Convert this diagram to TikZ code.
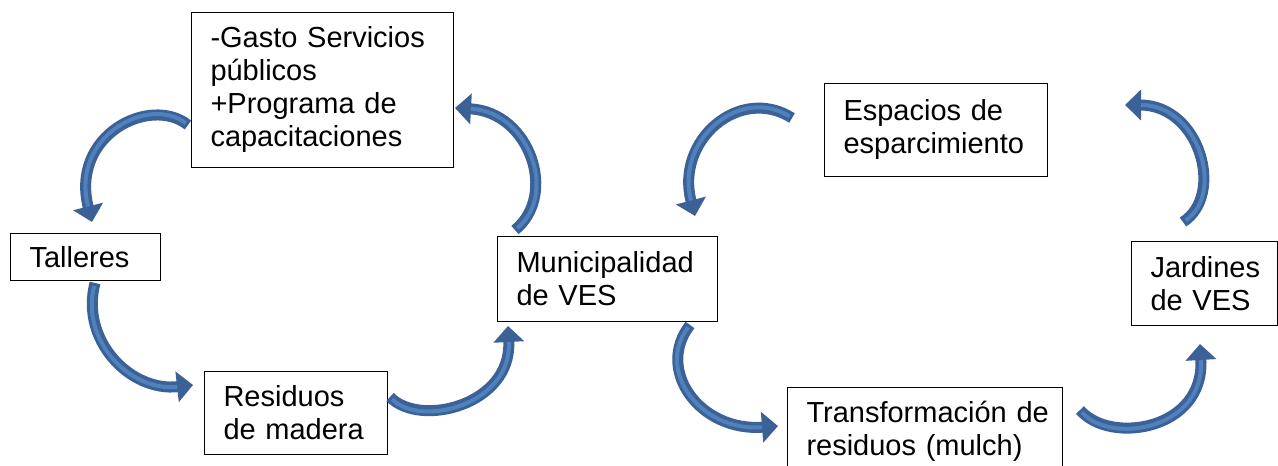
\documentclass[tikz,border=0pt]{standalone}
\usepackage{fontspec}
\setmainfont{Liberation Sans}
\usetikzlibrary{arrows.meta}
\definecolor{azuloscuro}{RGB}{59,97,150}
\definecolor{azulclaro}{RGB}{79,129,189}
\begin{document}
\begin{tikzpicture}[x=1pt,y=-1pt]
\tikzstyle{caja}=[rectangle,draw,line width=1pt,anchor=north west,align=left,inner xsep=19pt,inner ysep=0pt,font=\fontsize{29}{33}\selectfont]
\tikzstyle{flecha}=[draw=azuloscuro,line width=11pt,-{Triangle[length=16pt,width=30pt]},
  postaction={draw=azulclaro,line width=4pt,-,shorten >=16pt,shorten <=3pt}]
  \useasboundingbox (0,0) rectangle (1278,466);

  \node[caja,text width=224pt,minimum height=155pt] (gasto) at (191,12) {-Gasto Servicios\\públicos\\+Programa de\\capacitaciones};
  \node[caja,text width=112pt,minimum height=47pt] (talleres) at (10,233) {Talleres};
  \node[caja,text width=145pt,minimum height=83pt] (residuos) at (204,371) {Residuos\\de madera};
  \node[caja,text width=182pt,minimum height=85pt] (muni) at (497,236) {Municipalidad\\de VES};
  \node[caja,text width=185pt,minimum height=93pt] (espacios) at (824,83) {Espacios de\\esparcimiento};
  \node[caja,text width=108pt,minimum height=84pt] (jardines) at (1131,241) {Jardines\\de VES};
  \node[caja,text width=249pt,minimum height=88pt,inner xsep=13pt] (mulch) at (787,387) {\hbox{\hspace*{6pt}Transformación de}\\\hbox{\hspace*{6pt}residuos (mulch)}};

  % extremos de las flechas
  \coordinate (f1a) at (188,125);  \coordinate (f1b) at (92,222);
  \coordinate (f2a) at (95,283);   \coordinate (f2b) at (193,385);
  \coordinate (f3a) at (390,397);  \coordinate (f3b) at (508,326);
  \coordinate (f4a) at (515,230);  \coordinate (f4b) at (455,108);
  \coordinate (f5a) at (792,118);  \coordinate (f5b) at (695,216);
  \coordinate (f6a) at (690,325);  \coordinate (f6b) at (778,426);
  \coordinate (f7a) at (1080,410); \coordinate (f7b) at (1200,344);
  \coordinate (f8a) at (1183,222); \coordinate (f8b) at (1125,105);

  \draw[flecha] (f1a) .. controls (150,95) and (70,135) .. (f1b);
  \draw[flecha] (f2a) .. controls (80,340) and (130,392) .. (f2b);
  \draw[flecha] (f3a) .. controls (420,428) and (512,405) .. (f3b);
  \draw[flecha] (f4a) .. controls (558,195) and (530,112) .. (f4b);
  \draw[flecha] (f5a) .. controls (740,85) and (675,140) .. (f5b);
  \draw[flecha] (f6a) .. controls (655,370) and (700,432) .. (f6b);
  \draw[flecha] (f7a) .. controls (1110,445) and (1205,430) .. (f7b);
  \draw[flecha] (f8a) .. controls (1225,195) and (1200,105) .. (f8b);
\end{tikzpicture}
\end{document}
